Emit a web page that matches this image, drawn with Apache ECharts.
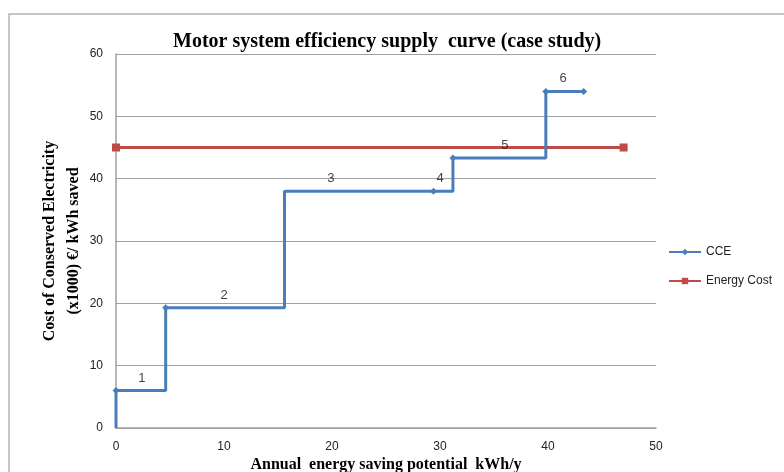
<!DOCTYPE html>
<html>
<head>
<meta charset="utf-8">
<script src="https://cdn.jsdelivr.net/npm/echarts@6/dist/echarts.min.js"></script>
<style>
  html, body { margin: 0; padding: 0; background: #fff; }
  #chart { width: 784px; height: 472px; }
</style>
</head>
<body>
<div id="chart"></div>
<script>
// supply curve points (x = kWh/y saved, y = cost)
const cceX = [0, 0, 4.6, 4.6, 15.6, 15.6, 29.4, 31.2, 31.2, 39.8, 39.8, 43.3];
const cceY = [0, 6, 6, 19.3, 19.3, 38, 38, 38, 43.3, 43.3, 54, 54];
const cceMarked = [false, true, false, true, false, false, true, false, true, false, true, true];

const energyX = [0, 47];
const energyY = [45, 45];

// step labels
const labelText = ["1", "2", "3", "4", "5", "6"];
const labelX = [2.4, 10, 19.9, 30, 36, 41.4];
const labelY = [6, 19.3, 38, 38, 43.3, 54];

const xTicks = [0, 50, 10];
const yTicks = [0, 60, 10];

const blue = "#4A7EBB";
const red = "#BE4B48";

const cceData = cceX.map((x, i) => ({
  value: [x, cceY[i]],
  symbol: cceMarked[i] ? "diamond" : "none",
}));

const option = {
  animation: false,
  title: {
    text: "Motor system efficiency supply  curve (case study)",
    left: 168,
    top: 27,
    textStyle: {
      fontFamily: "Liberation Serif",
      fontWeight: "bold",
      fontSize: 20,
      color: "#000",
    },
  },
  legend: {
    orient: "vertical",
    left: 663,
    top: 241,
    itemWidth: 32,
    itemHeight: 8,
    itemGap: 17,
    data: ["CCE", "Energy Cost"],
    textStyle: { fontFamily: "Liberation Sans", fontSize: 12, color: "#222" },
  },
  grid: { left: 116, right: 128, top: 54, bottom: 44, outerBoundsMode: "none", containLabel: false },
  xAxis: {
    type: "value",
    min: xTicks[0],
    max: xTicks[1],
    interval: xTicks[2],
    name: "Annual  energy saving potential  kWh/y",
    nameLocation: "middle",
    nameGap: 29,
    nameMoveOverlap: false,
    nameTextStyle: {
      fontFamily: "Liberation Serif",
      fontWeight: "bold",
      fontSize: 16,
      color: "#000",
    },
    axisLine: { lineStyle: { color: "#a0a0a0", width: 1.5 } },
    axisTick: { show: false },
    splitLine: { show: false },
    axisLabel: { fontFamily: "Liberation Sans", fontSize: 12, color: "#222", margin: 13 },
  },
  yAxis: {
    type: "value",
    min: yTicks[0],
    max: yTicks[1],
    interval: yTicks[2],
    name: "Cost of Conserved Electricity\n(x1000) €/ kWh saved",
    nameLocation: "middle",
    nameRotate: 90,
    nameGap: 30,
    nameMoveOverlap: false,
    nameTextStyle: {
      fontFamily: "Liberation Serif",
      fontWeight: "bold",
      fontSize: 16,
      lineHeight: 24,
      color: "#000",
    },
    axisLine: { show: true, lineStyle: { color: "#a0a0a0", width: 1.5 } },
    axisTick: { show: false },
    splitLine: { lineStyle: { color: "#a0a0a0", width: 1.2 } },
    axisLabel: { fontFamily: "Liberation Sans", fontSize: 12, color: "#222", margin: 13 },
  },
  series: [
    {
      name: "CCE",
      type: "line",
      data: cceData,
      symbol: "diamond",
      symbolSize: 7,
      showAllSymbol: true,
      lineStyle: { color: blue, width: 3 },
      itemStyle: { color: blue },
      z: 3,
    },
    {
      name: "Energy Cost",
      type: "line",
      data: energyX.map((x, i) => [x, energyY[i]]),
      symbol: "rect",
      symbolSize: 8,
      lineStyle: { color: red, width: 3 },
      itemStyle: { color: red },
      z: 2,
    },
    {
      name: "labels",
      type: "scatter",
      data: labelX.map((x, i) => [x, labelY[i], labelText[i]]),
      symbolSize: 0,
      label: {
        show: true,
        position: "top",
        distance: 6,
        formatter: (p) => p.value[2],
        fontFamily: "Liberation Sans",
        fontSize: 13,
        color: "#111",
      },
      z: 4,
    },
  ],
  graphic: [
    {
      type: "polyline",
      shape: { points: [[9, 472], [9, 14], [784, 14]] },
      style: { stroke: "#b4b4b4", lineWidth: 1.5, fill: null },
    },
  ],
};

const chart = echarts.init(document.getElementById("chart"));
chart.setOption(option);
</script>
</body>
</html>
